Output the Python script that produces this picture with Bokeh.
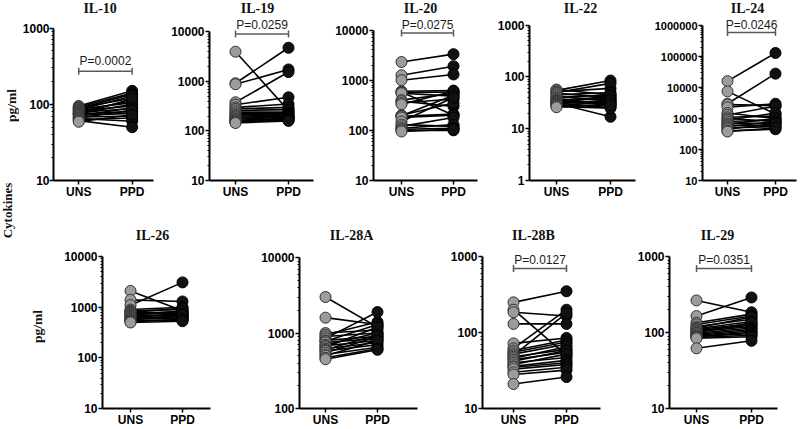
import math
from bokeh.plotting import figure
from bokeh.layouts import row, column
from bokeh.models import Range1d, FixedTicker, PrintfTickFormatter, Label, Arrow, TeeHead, ColumnDataSource
from bokeh.embed import file_html
from bokeh.resources import INLINE

# ---------------- data ----------------
groups = ["UNS", "PPD"]

il10_uns = [95, 92, 90, 88, 86, 84, 82, 80, 78, 76, 75, 74, 72, 70, 68, 66, 65, 63, 61, 59]
il10_ppd = [150, 140, 120, 135, 105, 128, 95, 112, 88, 100, 80, 118, 76, 90, 70, 84, 60, 66, 50, 73]
il10_ticks = [10, 100, 1000]

il19_uns = [4000, 920, 880, 380, 340, 300, 280, 260, 240, 225, 210, 200, 190, 180, 175, 165, 160, 155, 150, 145]
il19_ppd = [260, 4800, 1750, 1550, 480, 350, 300, 270, 240, 230, 220, 210, 200, 195, 190, 180, 175, 170, 165, 160]
il19_ticks = [10, 100, 1000, 10000]

il20_uns = [2300, 1250, 1000, 600, 580, 560, 550, 400, 380, 350, 330, 200, 195, 190, 180, 150, 130, 120, 110, 105, 100, 95]
il20_ppd = [3300, 1900, 1300, 620, 200, 580, 480, 550, 300, 420, 600, 350, 500, 210, 200, 450, 120, 180, 130, 110, 100, 105]
il20_ticks = [10, 100, 1000, 10000]

il22_uns = [57, 55, 52, 50, 48, 45, 42, 40, 38, 36, 35, 34, 33, 32, 31, 30, 29, 28, 27, 26]
il22_ppd = [45, 85, 60, 75, 40, 50, 35, 45, 30, 38, 28, 42, 33, 30, 17, 36, 26, 32, 25, 29]
il22_ticks = [1, 10, 100, 1000]

il24_uns = [16000, 7500, 3000, 2800, 2300, 1500, 1300, 1100, 1000, 900, 800, 700, 650, 600, 550, 500, 450, 400, 380]
il24_ppd = [130000, 1400, 28000, 2600, 3000, 1000, 2500, 1200, 800, 1500, 900, 700, 1000, 600, 800, 550, 700, 450, 500]
il24_ticks = [10, 100, 1000, 10000, 100000, 1000000]

il26_uns = [2100, 1400, 1100, 900, 850, 820, 800, 780, 750, 720, 700, 680, 650, 620, 600, 580, 560, 540, 520, 500]
il26_ppd = [850, 1300, 3100, 1000, 900, 700, 950, 800, 750, 650, 850, 700, 600, 750, 650, 600, 700, 550, 580, 530]
il26_ticks = [10, 100, 1000, 10000]

il28a_uns = [3000, 1600, 1000, 950, 900, 850, 800, 780, 750, 700, 680, 650, 620, 600, 580, 550, 520, 500, 470, 450]
il28a_ppd = [1200, 1300, 1100, 1400, 1000, 1900, 900, 1300, 850, 1000, 800, 1200, 750, 950, 700, 900, 650, 800, 620, 600]
il28a_ticks = [100, 1000, 10000]

il28b_uns = [250, 200, 185, 130, 72, 62, 58, 55, 52, 50, 48, 46, 44, 42, 40, 38, 36, 35, 33, 30, 28, 21]
il28b_ppd = [350, 50, 165, 130, 85, 200, 80, 75, 70, 180, 60, 65, 55, 58, 47, 52, 43, 40, 38, 35, 32, 26]
il28b_ticks = [10, 100, 1000]

il29_uns = [265, 165, 135, 128, 120, 115, 112, 110, 106, 103, 100, 98, 95, 92, 90, 88, 86, 84, 62]
il29_ppd = [185, 290, 175, 165, 150, 160, 140, 130, 125, 120, 135, 115, 110, 105, 100, 97, 92, 88, 78]
il29_ticks = [10, 100, 1000]

p_values = {"IL-10": "P=0.0002", "IL-19": "P=0.0259", "IL-20": "P=0.0275", "IL-24": "P=0.0246",
            "IL-28B": "P=0.0127", "IL-29": "P=0.0351"}
y_unit = "pg/ml"
side_title = "Cytokines"

# ---------------- layout (reference pixel geometry) ----------------
W_TOTAL, H_TOTAL = 800, 429
SERIF = "Liberation Serif"
SANS = "Liberation Sans"


def bare_strip(width, height):
    s = figure(width=width, height=height, title=None, x_range=Range1d(0, width), y_range=Range1d(0, height),
               x_axis_location=None, y_axis_location=None, output_backend="svg", toolbar_location=None,
               min_border_left=0, min_border_right=0, min_border_top=0, min_border_bottom=0)
    s.outline_line_color = None
    s.xgrid.visible = False
    s.ygrid.visible = False
    return s


def side_label(text, x, y, size="14px"):
    return Label(x=x, y=y, text=text, angle=math.pi / 2, text_font=SERIF, text_font_style="bold",
                 text_font_size=size, text_align="center", text_baseline="middle", text_color="#111111")


def make_panel(name, uns, ppd, ticks, box, frame, cats, title_xy, bracket=None, tick_size="12px",
               tick_standoff=1):
    bx0, bx1, by0, by1 = box
    L, R, T, B = frame
    u, v = cats
    lo, hi = math.log10(ticks[0]), math.log10(ticks[-1])

    def fx(px):
        return 1 + (px - u) / float(v - u)

    def fy(py):
        return 10 ** (hi - (py - T) / float(B - T) * (hi - lo))

    p = figure(width=bx1 - bx0, height=by1 - by0, title=None,
               x_range=Range1d(fx(L), fx(R)), y_range=Range1d(ticks[0], fy(by0)),
               y_axis_type="log", output_backend="svg", toolbar_location=None,
               min_border_left=L - bx0, min_border_right=bx1 - R,
               min_border_top=0, min_border_bottom=by1 - B)
    p.outline_line_color = None
    p.xgrid.visible = False
    p.ygrid.visible = False
    p.background_fill_color = "white"
    p.border_fill_color = "white"

    xa = p.xaxis[0]
    xa.ticker = FixedTicker(ticks=[1, 2])
    xa.major_label_overrides = {i + 1: g for i, g in enumerate(groups)}
    ya = p.yaxis[0]
    minors = [m * t for t in ticks[:-1] for m in range(2, 10)]
    ya.ticker = FixedTicker(ticks=ticks, minor_ticks=minors)
    ya.formatter = PrintfTickFormatter(format="%d")
    ya.bounds = (ticks[0], ticks[-1])
    for ax in (xa, ya):
        ax.axis_line_width = 2
        ax.axis_line_color = "black"
        ax.major_tick_line_width = 1.5
        ax.major_tick_line_color = "black"
        ax.major_tick_in = 0
        ax.major_tick_out = 4
        ax.minor_tick_line_width = 1
        ax.minor_tick_line_color = "black"
        ax.minor_tick_in = 0
        ax.minor_tick_out = 2
        ax.major_label_text_font = SANS
        ax.major_label_text_font_style = "bold"
        ax.major_label_text_color = "black"
    xa.axis_label = None
    xa.major_label_text_font_size = "12px"
    xa.major_label_standoff = 0
    ya.major_label_text_font_size = tick_size
    ya.major_label_standoff = tick_standoff

    n = len(uns)
    xu = [groups.index("UNS") + 1] * n
    xp = [groups.index("PPD") + 1] * n
    src = ColumnDataSource(dict(x0=xu, y0=uns, x1=xp, y1=ppd))
    p.segment("x0", "y0", "x1", "y1", source=src, line_color="black", line_width=1.6)
    p.scatter("x0", "y0", source=src, size=11, marker="circle",
              fill_color="#9c9c9c", line_color="#303030", line_width=1)
    p.scatter("x1", "y1", source=src, size=11, marker="circle",
              fill_color="#111111", line_color="#000000", line_width=1)

    p.add_layout(Label(x=fx(title_xy[0]), y=fy(title_xy[1]), text=name,
                       text_font=SERIF, text_font_style="bold", text_font_size="14px",
                       text_align="center", text_baseline="middle", text_color="#111111"))
    if bracket is not None:
        by, ty = bracket
        yb = fy(by)
        p.add_layout(Arrow(x_start=1, y_start=yb, x_end=2, y_end=yb,
                           line_color="#5a5a5a", line_width=1.5,
                           start=TeeHead(size=7, line_color="#5a5a5a", line_width=1.5),
                           end=TeeHead(size=7, line_color="#5a5a5a", line_width=1.5)))
        p.add_layout(Label(x=1.5, y=fy(ty), text=p_values[name],
                           text_font=SANS, text_font_size="12px",
                           text_align="center", text_baseline="middle", text_color="#1a1a1a"))
    return p


STRIP = 19          # full-height strip on the far left
STRIP2 = 48         # right edge of the strip holding the lower y unit
ROW_SPLIT = 214
top_y = (0, ROW_SPLIT)
bot_y = (ROW_SPLIT, H_TOTAL)

f1 = make_panel("IL-10", il10_uns, il10_ppd, il10_ticks, (STRIP, 160) + top_y,
                (50, 153, 28, 183), (76, 131), (98, 8), bracket=(72, 62), tick_standoff=0)
f2 = make_panel("IL-19", il19_uns, il19_ppd, il19_ticks, (160, 320) + top_y,
                (209, 313, 32, 183), (235, 288), (257, 8), bracket=(34, 25))
f3 = make_panel("IL-20", il20_uns, il20_ppd, il20_ticks, (320, 485) + top_y,
                (373, 477, 30, 183), (401, 453), (420, 8), bracket=(33, 25))
f4 = make_panel("IL-22", il22_uns, il22_ppd, il22_ticks, (485, 640) + top_y,
                (529, 635, 25, 183), (556, 610), (580, 8))
f5 = make_panel("IL-24", il24_uns, il24_ppd, il24_ticks, (640, W_TOTAL) + top_y,
                (702, 796, 25, 180), (727, 775), (747, 8), bracket=(32, 24), tick_size="11px")

g1 = make_panel("IL-26", il26_uns, il26_ppd, il26_ticks, (STRIP2, 225) + bot_y,
                (102, 210, 257, 412), (130, 182), (152, 235))
g2 = make_panel("IL-28A", il28a_uns, il28a_ppd, il28a_ticks, (225, 425) + bot_y,
                (299, 417, 258, 412), (325, 377), (351, 235))
g3 = make_panel("IL-28B", il28b_uns, il28b_ppd, il28b_ticks, (425, 610) + bot_y,
                (482, 600, 257, 412), (513, 566), (533, 235), bracket=(269, 260))
g4 = make_panel("IL-29", il29_uns, il29_ppd, il29_ticks, (610, W_TOTAL) + bot_y,
                (669, 777, 257, 412), (696, 751), (717, 235), bracket=(269, 260))

# far-left strip: shared side title + upper y unit
left = bare_strip(STRIP, H_TOTAL)
left.add_layout(side_label(side_title, 6.5, H_TOTAL - 210, size="13px"))
left.add_layout(side_label(y_unit, 10.5, H_TOTAL - 105, size="13.5px"))

# strip in the lower row carrying its y unit
strip2 = bare_strip(STRIP2 - STRIP, H_TOTAL - ROW_SPLIT)
strip2.add_layout(side_label(y_unit, 37 - STRIP, H_TOTAL - 338, size="13.5px"))

layout = row(left, column(row(f1, f2, f3, f4, f5), row(strip2, g1, g2, g3, g4)))

open("out.html", "w").write(file_html(layout, INLINE))
